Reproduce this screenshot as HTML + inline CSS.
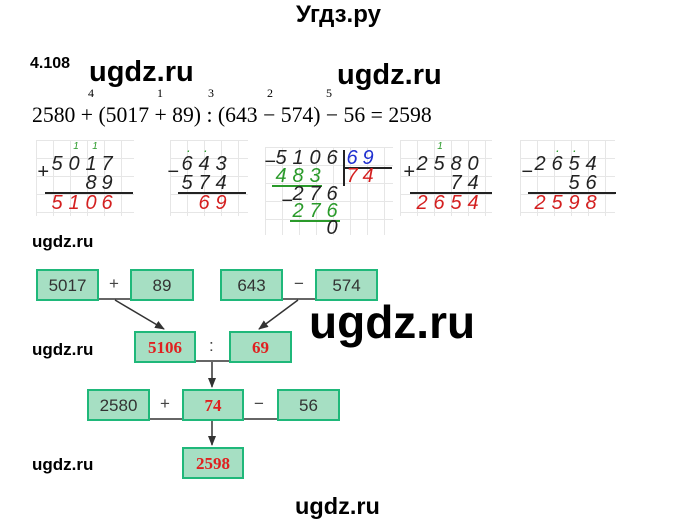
<!DOCTYPE html>
<html><head><meta charset="utf-8"><style>
body{margin:0;width:680px;height:525px;background:#fff;position:relative;overflow:hidden;font-family:"Liberation Sans",sans-serif}
.a{position:absolute;white-space:nowrap}
.w{font-weight:bold;color:#000}
.d{position:absolute;font-style:italic;font-size:20px;transform:translate(-50%,-50%);line-height:1}
.g{position:absolute;background-image:linear-gradient(#e6e6e6 1px,transparent 1px),linear-gradient(90deg,#e6e6e6 1px,transparent 1px);background-size:17px 18px}
.ln{position:absolute;height:2px;background:#222}
.bx{position:absolute;height:28px;background:#a6dfc3;border:2px solid #1fb87a;box-sizing:border-box;text-align:center;line-height:25px;font-size:17px;color:#333}
.r{color:#e02020;font-family:"Liberation Serif",serif;font-weight:bold}
.op{position:absolute;font-size:17px;color:#444}
</style></head><body>
<div class="a w" style="left:296px;top:1px;font-size:24px">Угдз.ру</div>
<div class="a w" style="left:30px;top:55px;font-size:16px">4.108</div>
<div class="a w" style="left:89px;top:56px;font-size:29px">ugdz.ru</div>
<div class="a w" style="left:337px;top:59px;font-size:29px">ugdz.ru</div>
<div class="a" style="left:0;top:0;font-family:'Liberation Serif',serif;font-size:12px">
<span class="a" style="left:88px;top:86px">4</span><span class="a" style="left:157px;top:86px">1</span><span class="a" style="left:208px;top:86px">3</span><span class="a" style="left:267px;top:86px">2</span><span class="a" style="left:326px;top:86px">5</span></div>
<div class="a" style="left:32px;top:103px;font-family:'Liberation Serif',serif;font-size:21.7px">2580 + (5017 + 89) : (643 − 574) − 56 = 2598</div>
<div id="c"></div>
<div class="a w" style="left:32px;top:232px;font-size:17px">ugdz.ru</div>
<div class="a w" style="left:32px;top:340px;font-size:17px">ugdz.ru</div>
<div class="a w" style="left:32px;top:455px;font-size:17px">ugdz.ru</div>
<div class="a w" style="left:309px;top:295px;font-size:46px">ugdz.ru</div>
<div class="a w" style="left:295px;top:493px;font-size:23.5px">ugdz.ru</div>

<svg class="a" style="left:0;top:0" width="680" height="525">
<defs><marker id="m" markerWidth="10" markerHeight="8" refX="9" refY="4" orient="auto" markerUnits="userSpaceOnUse"><path d="M0,0L10,4L0,8z" fill="#333"/></marker></defs>
<g stroke="#333" stroke-width="1.5" fill="none">
<line x1="98" y1="299" x2="131" y2="299"/><line x1="282" y1="299" x2="316" y2="299"/>
<line x1="195" y1="361" x2="230" y2="361"/><line x1="149" y1="419" x2="183" y2="419"/><line x1="243" y1="419" x2="278" y2="419"/>
<line x1="115" y1="300" x2="164" y2="329" marker-end="url(#m)"/>
<line x1="298" y1="300" x2="259" y2="329" marker-end="url(#m)"/>
<line x1="212" y1="362" x2="212" y2="387" marker-end="url(#m)"/>
<line x1="212" y1="420" x2="212" y2="445" marker-end="url(#m)"/>
</g></svg>
<div class="bx" style="left:36px;top:269px;width:63px;height:32px;line-height:29px">5017</div>
<div class="op" style="left:109px;top:274px">+</div>
<div class="bx" style="left:130px;top:269px;width:64px;height:32px;line-height:29px">89</div>
<div class="bx" style="left:220px;top:269px;width:63px;height:32px;line-height:29px">643</div>
<div class="op" style="left:294px;top:274px">−</div>
<div class="bx" style="left:315px;top:269px;width:63px;height:32px;line-height:29px">574</div>
<div class="bx r" style="left:134px;top:331px;width:62px;height:32px;line-height:29px">5106</div>
<div class="op" style="left:209px;top:336px">:</div>
<div class="bx r" style="left:229px;top:331px;width:63px;height:32px;line-height:29px">69</div>
<div class="bx" style="left:87px;top:389px;width:63px;height:32px;line-height:29px">2580</div>
<div class="op" style="left:160px;top:394px">+</div>
<div class="bx r" style="left:182px;top:389px;width:62px;height:32px;line-height:29px">74</div>
<div class="op" style="left:254px;top:394px">−</div>
<div class="bx" style="left:277px;top:389px;width:63px;height:32px;line-height:29px">56</div>
<div class="bx r" style="left:182px;top:447px;width:62px;height:32px;line-height:29px">2598</div>
<script>
var c=document.getElementById('c'),h='';
function g(x,y,w,hh){h+='<div class="g" style="left:'+x+'px;top:'+y+'px;width:'+w+'px;height:'+hh+'px"></div>'}
function d(t,xs,y,col,sz){for(var i=0;i<t.length;i++)if(t[i]!=' ')h+='<div class="d" style="left:'+xs[i]+'px;top:'+y+'px;color:'+col+(sz?';font-size:'+sz+'px':'')+'">'+t[i]+'</div>'}
function l(x,y,w,col){h+='<div class="ln" style="left:'+x+'px;top:'+y+'px;width:'+w+'px;background:'+(col||'#222')+'"></div>'}
var K='#222',R='#d42020',G='#2a9a2a',B='#2030d0';
g(36,140,98,76);g(170,140,78,76);g(265,147,128,88);g(400,140,92,76);g(520,140,95,76);
d('5017',[57,74,91,107],164,K);d('89',[91,107],183,K);d('5106',[57,74,91,107],203,R);d('11',[76,95],147,G,10);d('+',[43],172,K);l(45,192,88);
d('643',[187,204,221],164,K);d('574',[187,204,221],183,K);d('69',[204,221],203,R);d('..',[189,206],147,G,14);d('−',[173],172,K);l(178,192,68);
d('5106',[281,298,315,332],158,K);d('69',[352,368],158,B);l(344,167,48,K);h+='<div class="ln" style="left:343px;top:150px;width:1.5px;height:36px"></div>';
d('483',[281,298,315],176,G);l(272,185,50,G);d('74',[352,368],176,R);d('−',[270],162,K);
d('276',[298,315,332],194,K);d('−',[287],201,K);d('276',[298,315,332],211,G);l(290,220,50,G);d('0',[332],228,K);
d('2580',[422,439,456,473],164,K);d('74',[456,473],183,K);d('2654',[422,439,456,473],203,R);d('1',[440],147,G,10);d('+',[409],172,K);l(410,192,82);
d('2654',[540,557,574,591],164,K);d('56',[574,591],183,K);d('2598',[540,557,574,591],203,R);d('..',[558,575],147,G,14);d('−',[527],172,K);l(528,192,88);
c.innerHTML=h;
</script>
</body></html>
